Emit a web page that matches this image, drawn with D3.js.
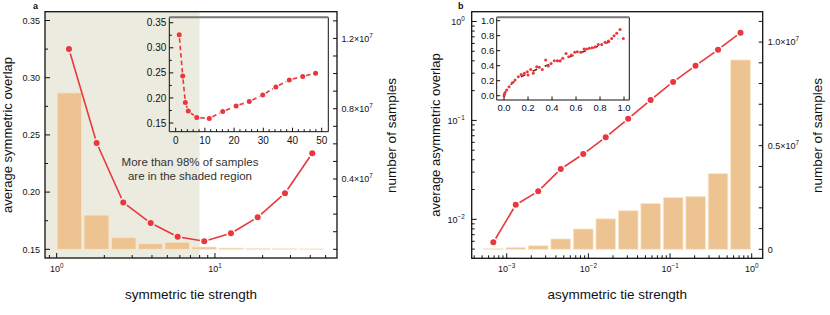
<!DOCTYPE html>
<html>
<head>
<meta charset="utf-8">
<script src="https://cdn.jsdelivr.net/npm/d3@7"></script>
<style>
 body{margin:0;background:#fff;}
 text{font-family:"Liberation Sans",Arial,Helvetica,sans-serif;fill:#111;}
</style>
</head>
<body>
<div id="chart"></div>
<script>
// ---- panel a data (symmetric tie strength) ----
var aX = [1.196, 1.789, 2.634, 3.925, 5.812, 8.56, 12.62, 18.61, 27.69, 41.18];
var aY = [0.325, 0.243, 0.191, 0.173, 0.161, 0.157, 0.164, 0.178, 0.199, 0.234];
var aBinEdges = [0.99, 1.464, 2.177, 3.226, 4.75, 7.03, 10.4, 15.4, 22.7, 33.6, 49.3];
var aCounts = [8.9e6, 1.95e6, 0.66e6, 0.32e6, 0.40e6, 0.13e6, 0.07e6, 0.04e6, 0.03e6, 0.02e6];
var aShadeMax = 8;
var insetAX = [1.2, 2.4, 3.3, 4.3, 7.2, 11.5, 16.1, 20.7, 25.2, 29.8, 34.3, 38.9, 43.5, 47.9];
var insetAY = [0.326, 0.244, 0.191, 0.174, 0.161, 0.159, 0.173, 0.184, 0.193, 0.206, 0.222, 0.236, 0.243, 0.249];

// ---- panel b data (asymmetric tie strength) ----
var bX = [0.000686, 0.00129, 0.00243, 0.00459, 0.00865, 0.0163, 0.0307, 0.0579, 0.109, 0.205, 0.387, 0.729];
var bY = [0.00585, 0.0140, 0.0192, 0.0323, 0.0457, 0.0675, 0.104, 0.161, 0.245, 0.357, 0.519, 0.77];
var bBinEdges = [0.0005, 0.00094, 0.00177, 0.00334, 0.0063, 0.0119, 0.0224, 0.0422, 0.0795, 0.150, 0.282, 0.531, 1.0];
var bCounts = [0.03e6, 0.08e6, 0.17e6, 0.50e6, 0.98e6, 1.47e6, 1.86e6, 2.21e6, 2.50e6, 2.55e6, 3.65e6, 9.14e6];
var insetBX = [0.0, 0.003, 0.008, 0.022, 0.042, 0.069, 0.092, 0.119, 0.142, 0.169, 0.194, 0.2, 0.222, 0.244, 0.272, 0.294, 0.319,
  0.347, 0.369, 0.392, 0.419, 0.444, 0.467, 0.489, 0.517, 0.539, 0.561, 0.589, 0.611, 0.639, 0.667, 0.689, 0.711,
  0.733, 0.761, 0.786, 0.814, 0.842, 0.869, 0.897, 0.917, 0.939, 0.967, 0.994];
var insetBY = [0.0, 0.02, 0.04, 0.075, 0.12, 0.173, 0.209, 0.253, 0.284, 0.298, 0.32, 0.276, 0.351, 0.298, 0.387, 0.378, 0.351,
  0.476, 0.396, 0.431, 0.467, 0.467, 0.462, 0.498, 0.564, 0.52, 0.542, 0.578, 0.587, 0.578, 0.622, 0.622, 0.631,
  0.64, 0.653, 0.684, 0.684, 0.711, 0.729, 0.764, 0.8, 0.831, 0.884, 0.764];
var fitBX = [0, 0.02, 0.05, 0.1, 0.15, 0.2, 0.3, 0.4, 0.5, 0.6, 0.7, 0.8, 0.9, 0.95];
var fitBY = [0, 0.08, 0.14, 0.21, 0.26, 0.30, 0.37, 0.43, 0.49, 0.55, 0.61, 0.67, 0.73, 0.76];

var RED = "#e8383d", BAR = "#edc491", BAR_EDGE = "#f8e6cc", SHADE = "#ecebdf";

var svg = d3.select("#chart").append("svg")
  .attr("width", 830).attr("height", 315)
  .style("display", "block");

// label like 10^-2  or 1.2x10^7
function supText(g, x, y, base, exp, anchor, size){
  var t = g.append("text").attr("x", x).attr("y", y)
    .attr("text-anchor", anchor).style("font-size", size + "px");
  t.append("tspan").text(base);
  t.append("tspan").attr("dy", -size*0.45).style("font-size", (size*0.7) + "px").text(exp);
  return t;
}

// line made of segments with a small gap round each marker
function gappedLine(g, pts, gap, dash){
  for (var i = 0; i < pts.length - 1; i++){
    var p = pts[i], q = pts[i+1];
    var dx = q[0]-p[0], dy = q[1]-p[1], len = Math.sqrt(dx*dx+dy*dy);
    if (len <= 2*gap) continue;
    var ux = dx/len, uy = dy/len;
    g.append("line")
      .attr("x1", p[0]+ux*gap).attr("y1", p[1]+uy*gap)
      .attr("x2", q[0]-ux*gap).attr("y2", q[1]-uy*gap)
      .attr("stroke", RED).attr("stroke-width", 1.6)
      .attr("stroke-dasharray", dash || null);
  }
}

function ticksY(g, scale, x0, vals, len){
  vals.forEach(function(v){
    g.append("line").attr("x1", x0).attr("x2", x0+len)
      .attr("y1", scale(v)).attr("y2", scale(v))
      .attr("stroke", "#111").attr("stroke-width", 1);
  });
}
function ticksX(g, scale, y0, vals, len){
  vals.forEach(function(v){
    g.append("line").attr("y1", y0).attr("y2", y0-len)
      .attr("x1", scale(v)).attr("x2", scale(v))
      .attr("stroke", "#111").attr("stroke-width", 1);
  });
}

function frame(g, l, t, r, b){
  g.append("rect").attr("x", l).attr("y", t).attr("width", r-l).attr("height", b-t)
    .attr("fill", "none").attr("stroke", "#111").attr("stroke-width", 1.3);
}
function insetFrame(g, l, t, r, b){
  g.append("path").attr("d", "M"+l+","+t+"V"+b+"H"+r+"V"+t)
    .attr("fill", "none").attr("stroke", "#111").attr("stroke-width", 1);
  g.append("line").attr("x1", l).attr("x2", r).attr("y1", t).attr("y2", t)
    .attr("stroke", "#777").attr("stroke-width", 2);
}

function range(a, b, s){ var r=[]; for (var v=a; v<=b+1e-9; v+=s) r.push(+v.toFixed(6)); return r; }

/* ===================== panel a ===================== */
var A = {l:45, t:11.7, r:337, b:258};
var ga = svg.append("g");
var ax = d3.scaleLog().domain([0.844, 59]).range([A.l, A.r]);
var ayL = d3.scaleLinear().domain([0.1424, 0.3577]).range([A.b, A.t]);
var ayR = d3.scaleLinear().domain([-0.0495e7, 1.352e7]).range([A.b, A.t]);

// shaded region
ga.append("rect").attr("x", A.l).attr("y", A.t)
  .attr("width", ax(aShadeMax)-A.l).attr("height", A.b-A.t).attr("fill", SHADE);

// bars
ga.selectAll(".barA").data(aCounts).enter().append("rect")
  .attr("x", function(d,i){ return ax(aBinEdges[i]) + 1.2; })
  .attr("width", function(d,i){ return ax(aBinEdges[i+1]) - ax(aBinEdges[i]) - 2.4; })
  .attr("y", function(d){ return ayR(d); })
  .attr("height", function(d){ return ayR(0) - ayR(d); })
  .attr("fill", BAR).attr("stroke", BAR_EDGE).attr("stroke-width", 0.8);

// line and points
var aPts = aX.map(function(x,i){ return [ax(x), ayL(aY[i])]; });
gappedLine(ga, aPts, 4.5);
ga.selectAll(".ptA").data(aPts).enter().append("circle")
  .attr("cx", function(d){ return d[0]; }).attr("cy", function(d){ return d[1]; })
  .attr("r", 3).attr("fill", RED);

frame(ga, A.l, A.t, A.r, A.b);

// left axis
ticksY(ga, ayL, A.l, [0.15,0.2,0.25,0.3,0.35], 5);
ticksY(ga, ayL, A.l, [0.175,0.225,0.275,0.325], 3);
[0.15,0.2,0.25,0.3,0.35].forEach(function(v){
  ga.append("text").attr("x", A.l-5).attr("y", ayL(v)+3.2).attr("text-anchor", "end")
    .style("font-size", "9px").text(d3.format(".2f")(v));
});
// right axis
ticksY(ga, ayR, A.r, range(0, 1.3e7, 1e6), -4);
[0.4, 0.8, 1.2].forEach(function(v){
  supText(ga, A.r+4.5, ayR(v*1e7)+3.2, v.toFixed(1)+"\u00d710", "7", "start", 9);
});
// bottom log axis
ticksX(ga, ax, A.b, [1, 10], 5);
ticksX(ga, ax, A.b, [0.9,2,3,4,5,6,7,8,9,20,30,40,50], 3);
supText(ga, ax(1), 272, "10", "0", "middle", 9);
supText(ga, ax(10), 272, "10", "1", "middle", 9);

// note
ga.append("text").attr("x", 190).attr("y", 166).attr("text-anchor", "middle")
  .style("font-size", "11.5px").style("fill", "#333").text("More than 98% of samples");
ga.append("text").attr("x", 190).attr("y", 180).attr("text-anchor", "middle")
  .style("font-size", "11.5px").style("fill", "#333").text("are in the shaded region");

// titles
ga.append("text").attr("transform", "translate(12,135) rotate(-90)").attr("text-anchor", "middle")
  .style("font-size", "13px").text("average symmetric overlap");
ga.append("text").attr("transform", "translate(396,135.5) rotate(-90)").attr("text-anchor", "middle")
  .style("font-size", "13.5px").text("number of samples");
ga.append("text").attr("x", (A.l+A.r)/2).attr("y", 299).attr("text-anchor", "middle")
  .style("font-size", "13.5px").text("symmetric tie strength");
ga.append("text").attr("x", 33).attr("y", 8.5).style("font-size", "9px").style("font-weight", "bold").text("a");

// inset a
var IA = {l:169.3, t:17.3, r:328.3, b:131.7};
var iax = d3.scaleLinear().domain([-2.19, 52.26]).range([IA.l, IA.r]);
var iay = d3.scaleLinear().domain([0.1327, 0.3608]).range([IA.b, IA.t]);
var iaPts = insetAX.map(function(x,i){ return [iax(x), iay(insetAY[i])]; });
gappedLine(ga, iaPts, 3.5, "4.5,3");
ga.selectAll(".ptIA").data(iaPts).enter().append("circle")
  .attr("cx", function(d){ return d[0]; }).attr("cy", function(d){ return d[1]; })
  .attr("r", 2.5).attr("fill", RED);
insetFrame(ga, IA.l, IA.t, IA.r, IA.b);
ticksY(ga, iay, IA.l, [0.15,0.2,0.25,0.3,0.35], 4);
ticksY(ga, iay, IA.l, [0.175,0.225,0.275,0.325], 2.5);
[0.15,0.2,0.25,0.3,0.35].forEach(function(v){
  ga.append("text").attr("x", IA.l-3).attr("y", iay(v)+3.6).attr("text-anchor", "end")
    .style("font-size", "10px").text(d3.format(".2f")(v));
});
ticksX(ga, iax, IA.b, range(0, 50, 10), 4);
ticksX(ga, iax, IA.b, range(2, 48, 2).filter(function(v){ return v % 10 != 0; }), 2.5);
range(0, 50, 10).forEach(function(v){
  ga.append("text").attr("x", iax(v)).attr("y", IA.b+12).attr("text-anchor", "middle")
    .style("font-size", "10px").text(v);
});

/* ===================== panel b ===================== */
var B = {l:471.7, t:11.7, r:762.7, b:258.3};
var gb = svg.append("g");
var bx = d3.scaleLog().domain([3.727e-4, 1.363]).range([B.l, B.r]);
var byL = d3.scaleLog().domain([0.004036, 1.256]).range([B.b, B.t]);
var byR = d3.scaleLinear().domain([-0.0434e7, 1.1467e7]).range([B.b, B.t]);

gb.selectAll(".barB").data(bCounts).enter().append("rect")
  .attr("x", function(d,i){ return bx(bBinEdges[i]) + 1.4; })
  .attr("width", function(d,i){ return bx(bBinEdges[i+1]) - bx(bBinEdges[i]) - 2.8; })
  .attr("y", function(d){ return byR(d); })
  .attr("height", function(d){ return byR(0) - byR(d); })
  .attr("fill", BAR).attr("stroke", BAR_EDGE).attr("stroke-width", 0.8);

var bPts = bX.map(function(x,i){ return [bx(x), byL(bY[i])]; });
gappedLine(gb, bPts, 4.5);
gb.selectAll(".ptB").data(bPts).enter().append("circle")
  .attr("cx", function(d){ return d[0]; }).attr("cy", function(d){ return d[1]; })
  .attr("r", 3).attr("fill", RED);

frame(gb, B.l, B.t, B.r, B.b);

// left log axis
var minorL = [], minorX = [];
[0.001, 0.01, 0.1].forEach(function(dec){
  for (var k = 2; k <= 9; k++){ minorL.push(dec*k); }
});
minorL = minorL.filter(function(v){ return v > 0.0045 && v < 1.256; });
ticksY(gb, byL, B.l, [0.01, 0.1, 1], 5);
ticksY(gb, byL, B.l, minorL, 3);
[[0.01,"\u22122"],[0.1,"\u22121"],[1,"0"]].forEach(function(d){
  supText(gb, B.l-7, byL(d[0])+3.5, "10", d[1], "end", 9);
});
// right axis
ticksY(gb, byR, B.r, range(0, 1.1e7, 1e6), -4);
supText(gb, B.r+5, byR(0.5e7)+3.2, "0.5\u00d710", "7", "start", 9);
supText(gb, B.r+5, byR(1.0e7)+3.2, "1.0\u00d710", "7", "start", 9);
gb.append("text").attr("x", B.r+5).attr("y", byR(0)+3.2).style("font-size", "9px").text("0");
// bottom log axis
[0.0001, 0.001, 0.01, 0.1].forEach(function(dec){
  for (var k = 2; k <= 9; k++){ minorX.push(dec*k); }
});
minorX = minorX.filter(function(v){ return v > 3.8e-4 && v < 1.36; });
ticksX(gb, bx, B.b, [0.001, 0.01, 0.1, 1], 5);
ticksX(gb, bx, B.b, minorX, 3);
[[0.001,"\u22123"],[0.01,"\u22122"],[0.1,"\u22121"],[1,"0"]].forEach(function(d){
  supText(gb, bx(d[0]), 272, "10", d[1], "middle", 9);
});

gb.append("text").attr("transform", "translate(440,135) rotate(-90)").attr("text-anchor", "middle")
  .style("font-size", "13px").text("average asymmetric overlap");
gb.append("text").attr("transform", "translate(822,135.5) rotate(-90)").attr("text-anchor", "middle")
  .style("font-size", "13.5px").text("number of samples");
gb.append("text").attr("x", (B.l+B.r)/2).attr("y", 299).attr("text-anchor", "middle")
  .style("font-size", "13.5px").text("asymmetric tie strength");
gb.append("text").attr("x", 458).attr("y", 8.5).style("font-size", "9px").style("font-weight", "bold").text("b");

// inset b
var IB = {l:496.7, t:17.3, r:629.3, b:100};
var ibx = d3.scaleLinear().domain([-0.061, 1.044]).range([IB.l, IB.r]);
var iby = d3.scaleLinear().domain([-0.057, 1.045]).range([IB.b, IB.t]);
gb.append("rect").attr("x", IB.l).attr("y", IB.t).attr("width", IB.r-IB.l).attr("height", IB.b-IB.t).attr("fill", "#fff");
gb.append("path")
  .attr("d", d3.line().x(function(d){ return ibx(d[0]); }).y(function(d){ return iby(d[1]); })
    (fitBX.map(function(x,i){ return [x, fitBY[i]]; })))
  .attr("fill", "none").attr("stroke", "#8b1a1a").attr("stroke-width", 1.5).attr("stroke-dasharray", "5,8");
gb.selectAll(".ptIB").data(insetBX).enter().append("circle")
  .attr("cx", function(d){ return ibx(d); }).attr("cy", function(d,i){ return iby(insetBY[i]); })
  .attr("r", 1.5).attr("fill", RED);
insetFrame(gb, IB.l, IB.t, IB.r, IB.b);
var ibv = [0, 0.2, 0.4, 0.6, 0.8, 1.0];
ticksY(gb, iby, IB.l, ibv, 3.5);
ticksX(gb, ibx, IB.b, ibv, 3.5);
ibv.forEach(function(v){
  gb.append("text").attr("x", IB.l-2.5).attr("y", iby(v)+3.3).attr("text-anchor", "end")
    .style("font-size", "9.5px").text(v.toFixed(1));
  gb.append("text").attr("x", ibx(v)).attr("y", IB.b+11).attr("text-anchor", "middle")
    .style("font-size", "9.5px").text(v.toFixed(1));
});
</script>
</body>
</html>
